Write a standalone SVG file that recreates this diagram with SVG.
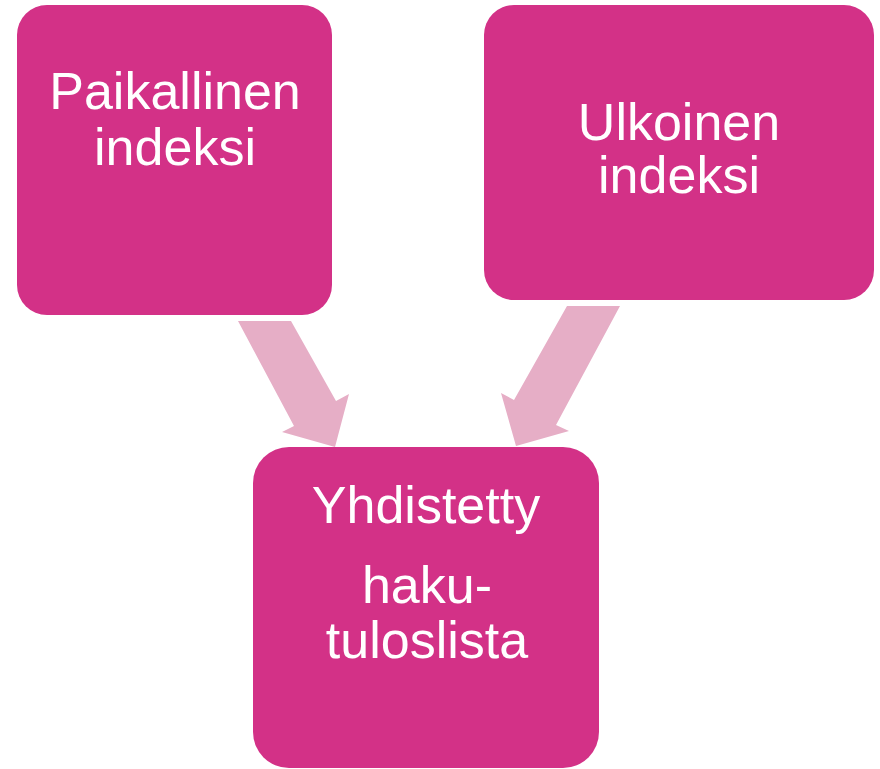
<svg xmlns="http://www.w3.org/2000/svg" width="880" height="769" viewBox="0 0 880 769">
<style>
.box{fill:#D33187;}
.arrow{fill:#E6AEC6;}
.lbl{font-family:"Liberation Sans",Arial,sans-serif;font-size:52px;fill:#FFFFFF;text-anchor:middle;}
</style>
<rect width="880" height="769" fill="#FFFFFF"/>
<g id="connectors">
<polygon class="arrow" points="238,321 291,321 336,401 349,394 335,447 282,432 294,426"/>
<polygon class="arrow" points="567,306 620,306 556,425 569,431 516,446 501,393 514,400"/>
</g>
<g id="node-paikallinen">
<rect class="box" x="17" y="5" width="315" height="310" rx="30" ry="30"/>
<text class="lbl" x="175" y="109">Paikallinen</text>
<text class="lbl" x="175" y="165">indeksi</text>
</g>
<g id="node-ulkoinen">
<rect class="box" x="484" y="5" width="390" height="295" rx="30" ry="30"/>
<text class="lbl" x="679" y="140">Ulkoinen</text>
<text class="lbl" x="679" y="193">indeksi</text>
</g>
<g id="node-yhdistetty">
<rect class="box" x="253" y="447" width="346" height="321" rx="36" ry="36"/>
<text class="lbl" x="426" y="523">Yhdistetty</text>
<text class="lbl" x="427" y="603">haku-</text>
<text class="lbl" x="427" y="658">tuloslista</text>
</g>
</svg>
